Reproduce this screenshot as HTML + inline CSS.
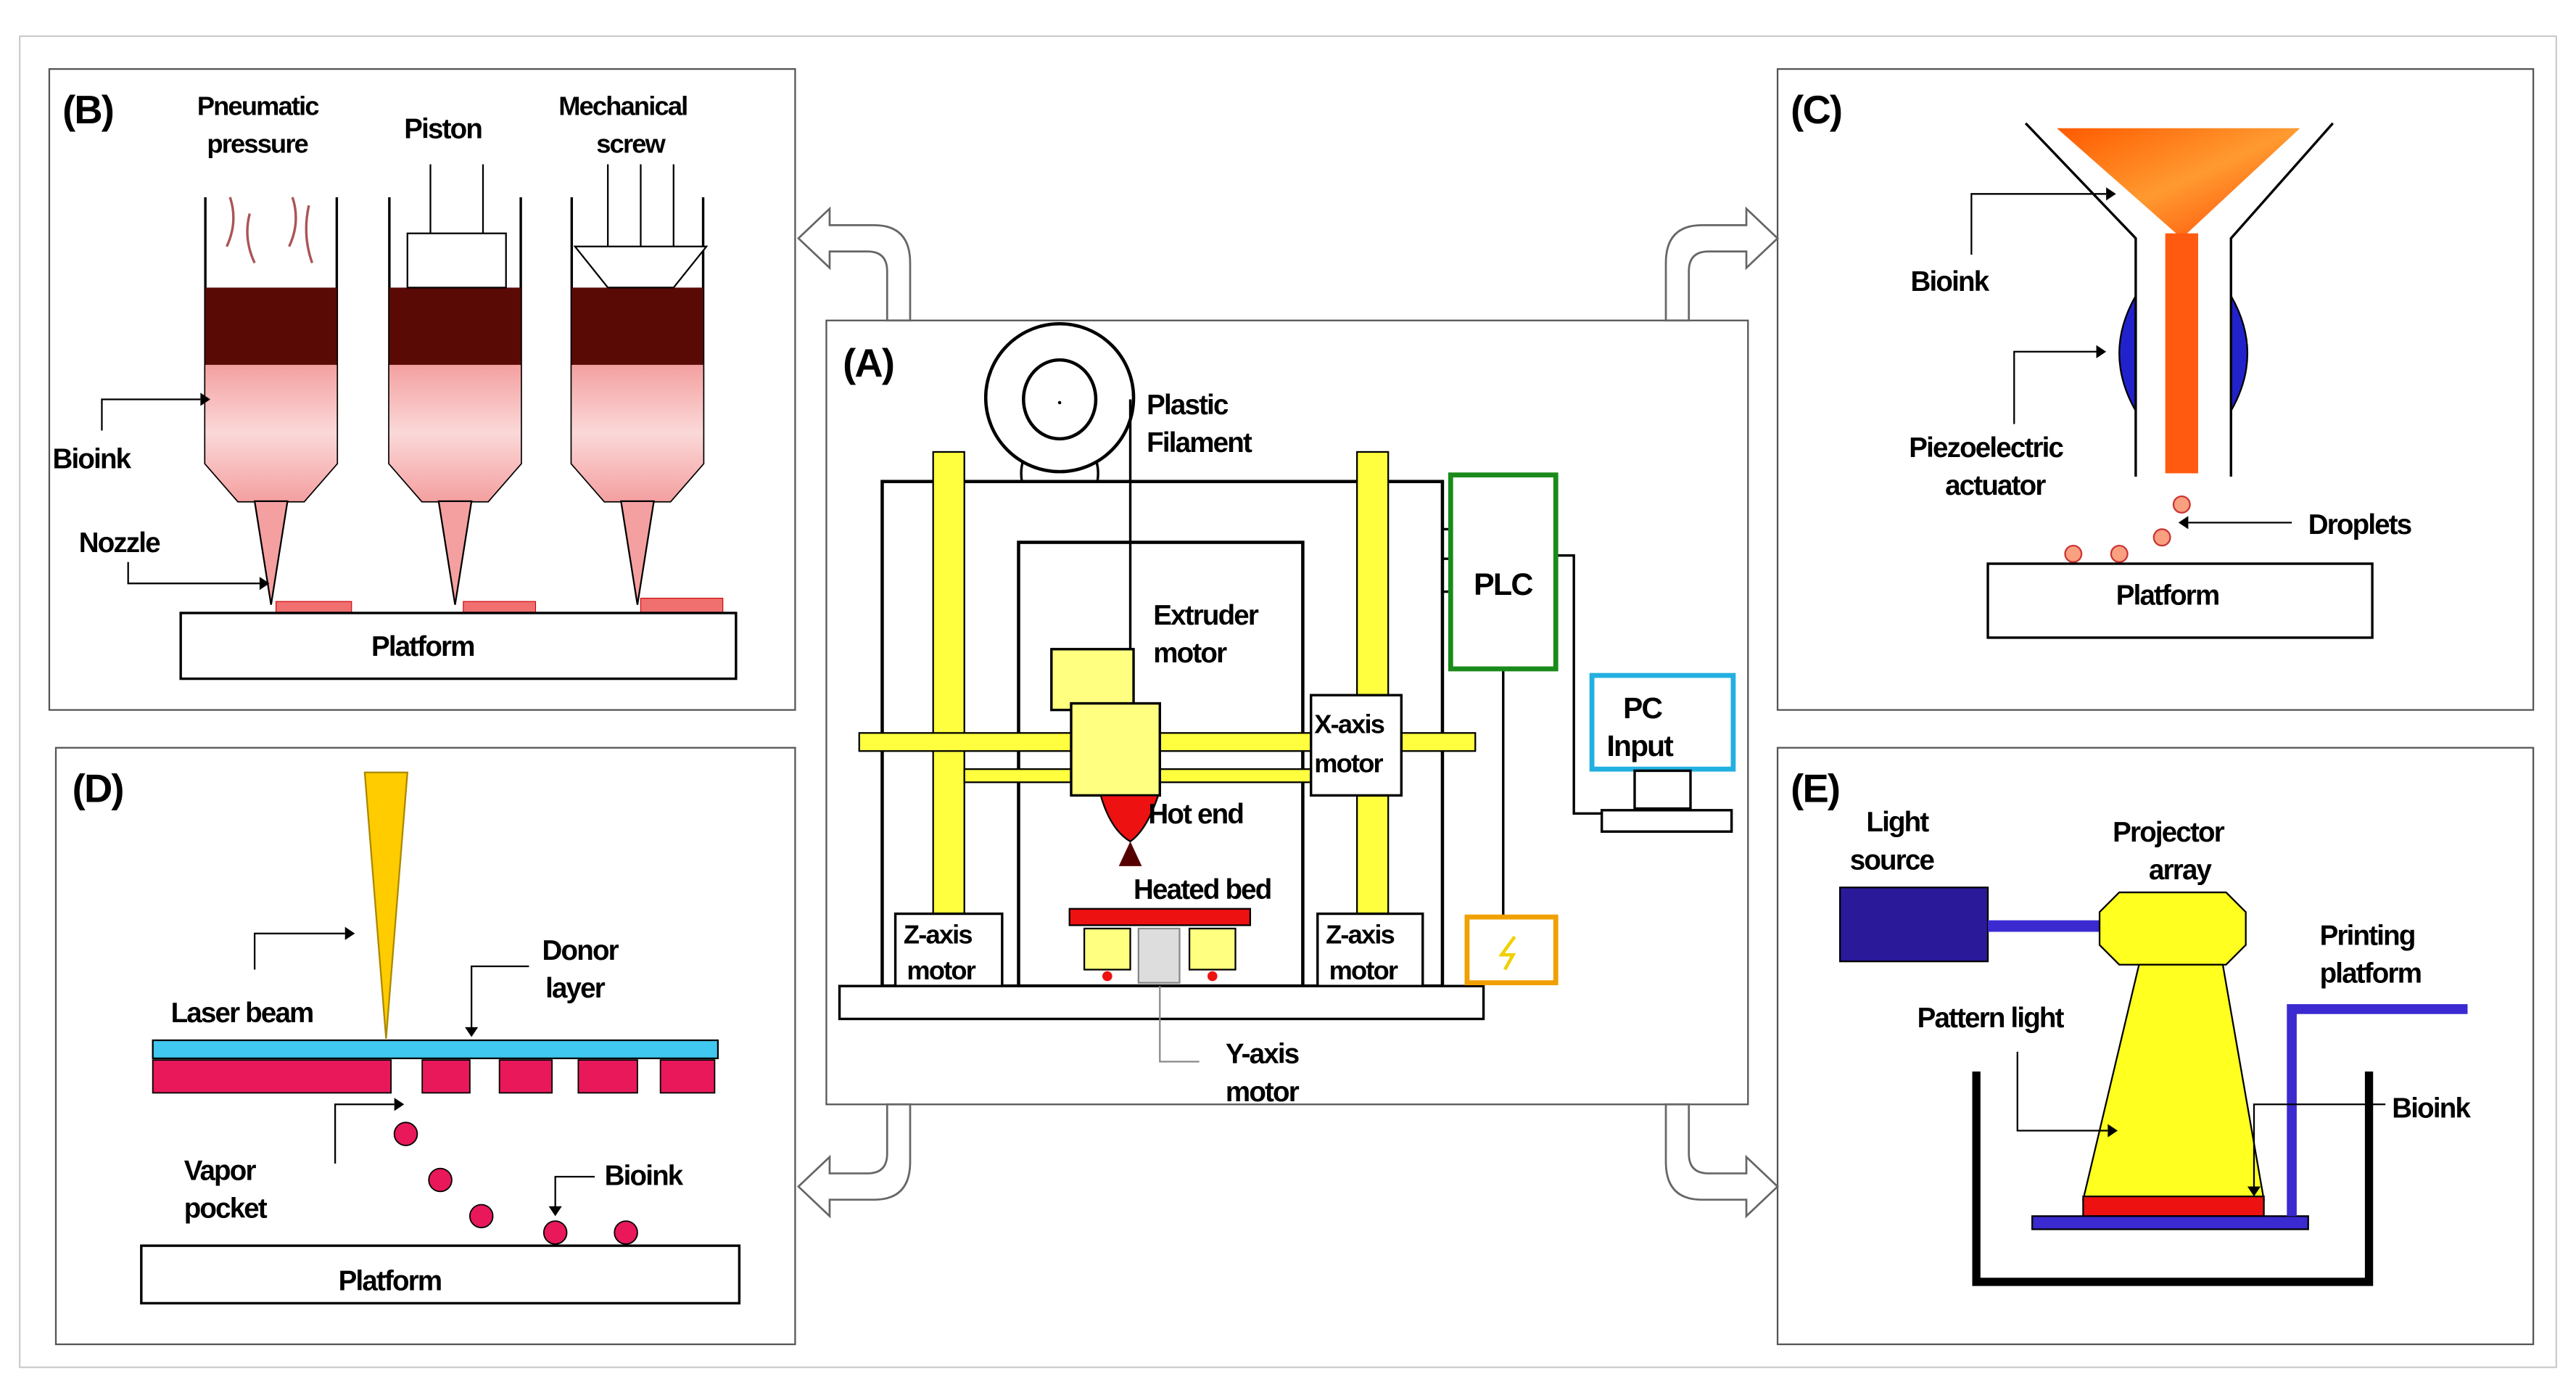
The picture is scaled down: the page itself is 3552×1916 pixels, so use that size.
<!DOCTYPE html>
<html><head><meta charset="utf-8"><style>
html,body{margin:0;padding:0;background:#fff}
svg{display:block}
text{font-family:"Liberation Sans",Arial,sans-serif;font-weight:bold;fill:#000;letter-spacing:-0.8px}
</style></head><body>
<svg width="3552" height="1916" viewBox="0 0 1568 845.8" preserveAspectRatio="none" xmlns="http://www.w3.org/2000/svg">
<defs>
<linearGradient id="pk" x1="0" y1="0" x2="0" y2="1"><stop offset="0" stop-color="#f4a0a0"/><stop offset="0.5" stop-color="#fbd8d8"/><stop offset="1" stop-color="#f4a0a0"/></linearGradient>
<linearGradient id="og" x1="0" y1="0" x2="1" y2="1"><stop offset="0" stop-color="#ff5a00"/><stop offset="0.5" stop-color="#ff9a30"/><stop offset="1" stop-color="#ff4400"/></linearGradient>
</defs>
<rect x="12" y="22" width="1544" height="810" fill="#fff" stroke="#ccc" stroke-width="1"/>
<g fill="#fff" stroke="#555" stroke-width="1">
<rect x="30" y="42" width="454" height="390"/>
<rect x="1082" y="42" width="460" height="390"/>
<rect x="34" y="455" width="450" height="363"/>
<rect x="1082" y="455" width="460" height="363"/>
<rect x="503" y="195" width="561" height="477"/>
</g>
<g fill="#fff" stroke="#666" stroke-width="1.2">
<path id="a1" d="M540,195 V165 Q540,153 528,153 H505 V163 L486,145 L505,127 V137 H532 Q554,137 554,160 V195 Z"/>
<use href="#a1" transform="translate(1568,0) scale(-1,1)"/>
<path id="a2" d="M540,672 V702 Q540,714 528,714 H505 V704 L486,722 L505,740 V730 H532 Q554,730 554,707 V672 Z"/>
<use href="#a2" transform="translate(1568,0) scale(-1,1)"/>
</g>
<!-- Panel A -->
<text x="513" y="229" font-size="24">(A)</text>
<path d="M622,293 Q620,280 628,272 M668,293 Q670,280 662,272" stroke="#000" stroke-width="1.5" fill="none"/>
<circle cx="645" cy="242" r="45" fill="#fff" stroke="#000" stroke-width="2"/>
<ellipse cx="645" cy="243" rx="22" ry="24" fill="none" stroke="#000" stroke-width="2"/>
<circle cx="645" cy="245" r="1" fill="#000"/>
<text x="698" y="252" font-size="17">Plastic</text>
<text x="698" y="275" font-size="17">Filament</text>
<rect x="537" y="293" width="341" height="307" fill="none" stroke="#000" stroke-width="2"/>
<rect x="620" y="330" width="173" height="270" fill="none" stroke="#000" stroke-width="2"/>
<path d="M688,243 V405" stroke="#000" stroke-width="1.5" fill="none"/>
<g fill="#ffff40" stroke="#000" stroke-width="1">
<rect x="568" y="275" width="19" height="325"/>
<rect x="826" y="275" width="19" height="325"/>
<rect x="523" y="446" width="375" height="11"/>
<rect x="587" y="468" width="239" height="8"/>
</g>
<rect x="640" y="395" width="50" height="37" fill="#ffff80" stroke="#000" stroke-width="1.5"/>
<rect x="652" y="428" width="54" height="56" fill="#ffff80" stroke="#000" stroke-width="1.5"/>
<path d="M670,484 H705 Q698,505 688,512 Q676,505 670,484 Z" fill="#ee1111" stroke="#000"/>
<path d="M688,512 L681,527 H695 Z" fill="#500"/>
<text x="702" y="380" font-size="17">Extruder</text>
<text x="702" y="403" font-size="17">motor</text>
<text x="699" y="501" font-size="17">Hot end</text>
<text x="690" y="547" font-size="17">Heated bed</text>
<rect x="798" y="423" width="55" height="61" fill="#fff" stroke="#000" stroke-width="1.5"/>
<text x="800" y="446" font-size="16">X-axis</text>
<text x="800" y="470" font-size="16">motor</text>
<rect x="545" y="556" width="65" height="44" fill="#fff" stroke="#000" stroke-width="1.5"/>
<text x="550" y="574" font-size="16">Z-axis</text>
<text x="552" y="596" font-size="16">motor</text>
<rect x="802" y="556" width="64" height="44" fill="#fff" stroke="#000" stroke-width="1.5"/>
<text x="807" y="574" font-size="16">Z-axis</text>
<text x="809" y="596" font-size="16">motor</text>
<rect x="651" y="553" width="110" height="10" fill="#ee1111" stroke="#000"/>
<rect x="660" y="565" width="28" height="25" fill="#ffff80" stroke="#000"/>
<rect x="724" y="565" width="28" height="25" fill="#ffff80" stroke="#000"/>
<rect x="693" y="565" width="25" height="33" fill="#ddd" stroke="#888"/>
<circle cx="674" cy="594" r="3" fill="#e11"/><circle cx="738" cy="594" r="3" fill="#e11"/>
<rect x="511" y="600" width="392" height="20" fill="#fff" stroke="#000" stroke-width="1.5"/>
<path d="M706,600 V646 H730" stroke="#888" fill="none"/>
<text x="746" y="647" font-size="17">Y-axis</text>
<text x="746" y="670" font-size="17">motor</text>
<path d="M878,322 H884 M878,340 H884 M878,360 H884 M948,338 H958 V495 H975 M915,407 V558" stroke="#000" stroke-width="1.5" fill="none"/>
<rect x="883" y="289" width="64" height="118" fill="#fff" stroke="#1a8a1a" stroke-width="3"/>
<text x="897" y="362" font-size="19">PLC</text>
<rect x="969" y="411" width="86" height="57" fill="#fff" stroke="#22b0e0" stroke-width="3"/>
<text x="988" y="437" font-size="18">PC</text>
<text x="978" y="460" font-size="18">Input</text>
<rect x="995" y="469" width="34" height="23" fill="#fff" stroke="#000" stroke-width="1.5"/>
<rect x="975" y="493" width="79" height="13" fill="#fff" stroke="#000" stroke-width="1.5"/>
<rect x="893" y="558" width="54" height="40" fill="#fff" stroke="#f0a000" stroke-width="3"/>
<path d="M922,570 L914,581 H921 L916,590" stroke="#f0d000" stroke-width="2" fill="none"/>
<!-- Panel B -->
<text x="38" y="75" font-size="24">(B)</text>
<text x="120" y="70" font-size="16">Pneumatic</text>
<text x="126" y="93" font-size="16">pressure</text>
<text x="246" y="84" font-size="17">Piston</text>
<text x="340" y="70" font-size="16">Mechanical</text>
<text x="363" y="93" font-size="16">screw</text>
<g id="syr">
<path d="M125,120 V282 L145,305 H185 L205,282 V120" fill="none" stroke="#000" stroke-width="1.5"/>
<path d="M125,222 H205 V282 L185,305 H145 L125,282 Z" fill="url(#pk)"/>
<rect x="125" y="175" width="80" height="47" fill="#5a0a05"/>
<path d="M155,305 L165,368 L175,305 Z" fill="#f4a0a0" stroke="#000"/>
</g>
<use href="#syr" x="112"/>
<use href="#syr" x="223"/>
<g stroke="#a55" fill="none" stroke-width="1.5">
<path d="M140,120 q5,15 -2,30 M152,130 q-4,15 3,30 M178,120 q5,15 -2,30 M188,125 q-4,18 2,35"/>
</g>
<rect x="248" y="142" width="60" height="33" fill="#fff" stroke="#000"/>
<path d="M262,100 V142 M294,100 V142" stroke="#000" fill="none"/>
<path d="M350,150 H430 L410,175 H370 Z" fill="#fff" stroke="#000"/>
<path d="M370,100 V150 M390,100 V150 M410,100 V150" stroke="#000" fill="none"/>
<text x="32" y="285" font-size="17">Bioink</text>
<path d="M62,262 V243 H122" stroke="#000" fill="none"/><path d="M122,239 L128,243 L122,247 Z"/>
<text x="48" y="336" font-size="17">Nozzle</text>
<path d="M78,342 V355 H158" stroke="#000" fill="none"/><path d="M158,351 L164,355 L158,359 Z"/>
<rect x="168" y="366" width="46" height="7" fill="#f07070" stroke="#c00" stroke-width=".5"/>
<rect x="282" y="366" width="44" height="7" fill="#f07070" stroke="#c00" stroke-width=".5"/>
<rect x="390" y="364" width="50" height="9" fill="#f07070" stroke="#c00" stroke-width=".5"/>
<rect x="110" y="373" width="338" height="40" fill="#fff" stroke="#000" stroke-width="1.5"/>
<text x="226" y="399" font-size="17">Platform</text>
<!-- Panel C -->
<text x="1090" y="75" font-size="24">(C)</text>
<path d="M1300,180 Q1280,215 1300,250 Z" fill="#2222cc" stroke="#000"/>
<path d="M1358,180 Q1378,215 1358,250 Z" fill="#2222cc" stroke="#000"/>
<path d="M1233,75 L1300,145 V290 M1420,75 L1358,145 V290" stroke="#000" stroke-width="1.5" fill="none"/>
<path d="M1252,78 H1400 L1328,145 Z" fill="url(#og)"/>
<rect x="1318" y="142" width="20" height="146" fill="#ff5a10"/>
<text x="1163" y="177" font-size="17">Bioink</text>
<path d="M1200,155 V118 H1282" stroke="#000" fill="none"/><path d="M1282,114 L1288,118 L1282,122 Z"/>
<text x="1162" y="278" font-size="17">Piezoelectric</text>
<text x="1184" y="301" font-size="17">actuator</text>
<path d="M1226,258 V214 H1276" stroke="#000" fill="none"/><path d="M1276,210 L1282,214 L1276,218 Z"/>
<g fill="#f8a080" stroke="#c33"><circle cx="1328" cy="307" r="5"/><circle cx="1316" cy="327" r="5"/><circle cx="1290" cy="337" r="5"/><circle cx="1262" cy="337" r="5"/></g>
<text x="1405" y="325" font-size="17">Droplets</text>
<path d="M1395,318 H1332" stroke="#000" fill="none"/><path d="M1332,314 L1326,318 L1332,322 Z"/>
<rect x="1210" y="343" width="234" height="45" fill="#fff" stroke="#000" stroke-width="1.5"/>
<text x="1288" y="368" font-size="17">Platform</text>
<!-- Panel D -->
<text x="44" y="488" font-size="24">(D)</text>
<path d="M222,470 H248 L235,632 Z" fill="#ffcc00" stroke="#a80"/>
<path d="M155,590 V568 H210" stroke="#000" fill="none"/><path d="M210,564 L216,568 L210,572 Z"/>
<text x="104" y="622" font-size="17">Laser beam</text>
<text x="330" y="584" font-size="17">Donor</text>
<text x="332" y="607" font-size="17">layer</text>
<path d="M322,588 H287 V625" stroke="#000" fill="none"/><path d="M283,625 L287,631 L291,625 Z"/>
<rect x="93" y="633" width="344" height="11" fill="#40c8f0" stroke="#000"/>
<g fill="#e8185a" stroke="#000" stroke-width=".8">
<rect x="93" y="645" width="145" height="20"/><rect x="257" y="645" width="29" height="20"/><rect x="304" y="645" width="32" height="20"/><rect x="352" y="645" width="36" height="20"/><rect x="402" y="645" width="33" height="20"/>
<circle cx="247" cy="690" r="7"/><circle cx="268" cy="718" r="7"/><circle cx="293" cy="740" r="7"/><circle cx="338" cy="750" r="7"/><circle cx="381" cy="750" r="7"/>
</g>
<path d="M204,708 V672 H240" stroke="#000" fill="none"/><path d="M240,668 L246,672 L240,676 Z"/>
<text x="112" y="718" font-size="17">Vapor</text>
<text x="112" y="741" font-size="17">pocket</text>
<text x="368" y="721" font-size="17">Bioink</text>
<path d="M362,716 H338 V736" stroke="#000" fill="none"/><path d="M334,734 L338,740 L342,734 Z"/>
<rect x="86" y="758" width="364" height="35" fill="#fff" stroke="#000" stroke-width="1.5"/>
<text x="206" y="785" font-size="17">Platform</text>
<!-- Panel E -->
<text x="1090" y="488" font-size="24">(E)</text>
<text x="1136" y="506" font-size="17">Light</text>
<text x="1126" y="529" font-size="17">source</text>
<text x="1286" y="512" font-size="17">Projector</text>
<text x="1308" y="535" font-size="17">array</text>
<text x="1412" y="575" font-size="17">Printing</text>
<text x="1412" y="598" font-size="17">platform</text>
<text x="1167" y="625" font-size="17">Pattern light</text>
<text x="1456" y="680" font-size="17">Bioink</text>
<rect x="1120" y="540" width="90" height="45" fill="#2a1a9a" stroke="#000"/>
<rect x="1210" y="560" width="68" height="7" fill="#3a2ad0"/>
<path d="M1290,543 H1355 L1367,555 V575 L1355,587 H1290 L1278,575 V555 Z" fill="#ffff20" stroke="#000"/>
<path d="M1302,587 H1353 L1378,730 H1268 Z" fill="#ffff20" stroke="#000"/>
<path d="M1203,652 V780 H1442 V652" stroke="#000" stroke-width="5" fill="none"/>
<rect x="1268" y="728" width="110" height="12" fill="#ee1111" stroke="#000"/>
<rect x="1237" y="740" width="168" height="8" fill="#3a2ad0" stroke="#000"/>
<path d="M1395,740 V614 H1502" stroke="#3a2ad0" stroke-width="6" fill="none"/>
<path d="M1228,640 V688 H1283" stroke="#000" fill="none"/><path d="M1283,684 L1289,688 L1283,692 Z"/>
<path d="M1452,672 H1372 V722" stroke="#000" fill="none"/><path d="M1368,722 L1372,728 L1376,722 Z"/>
</svg>
</body></html>
